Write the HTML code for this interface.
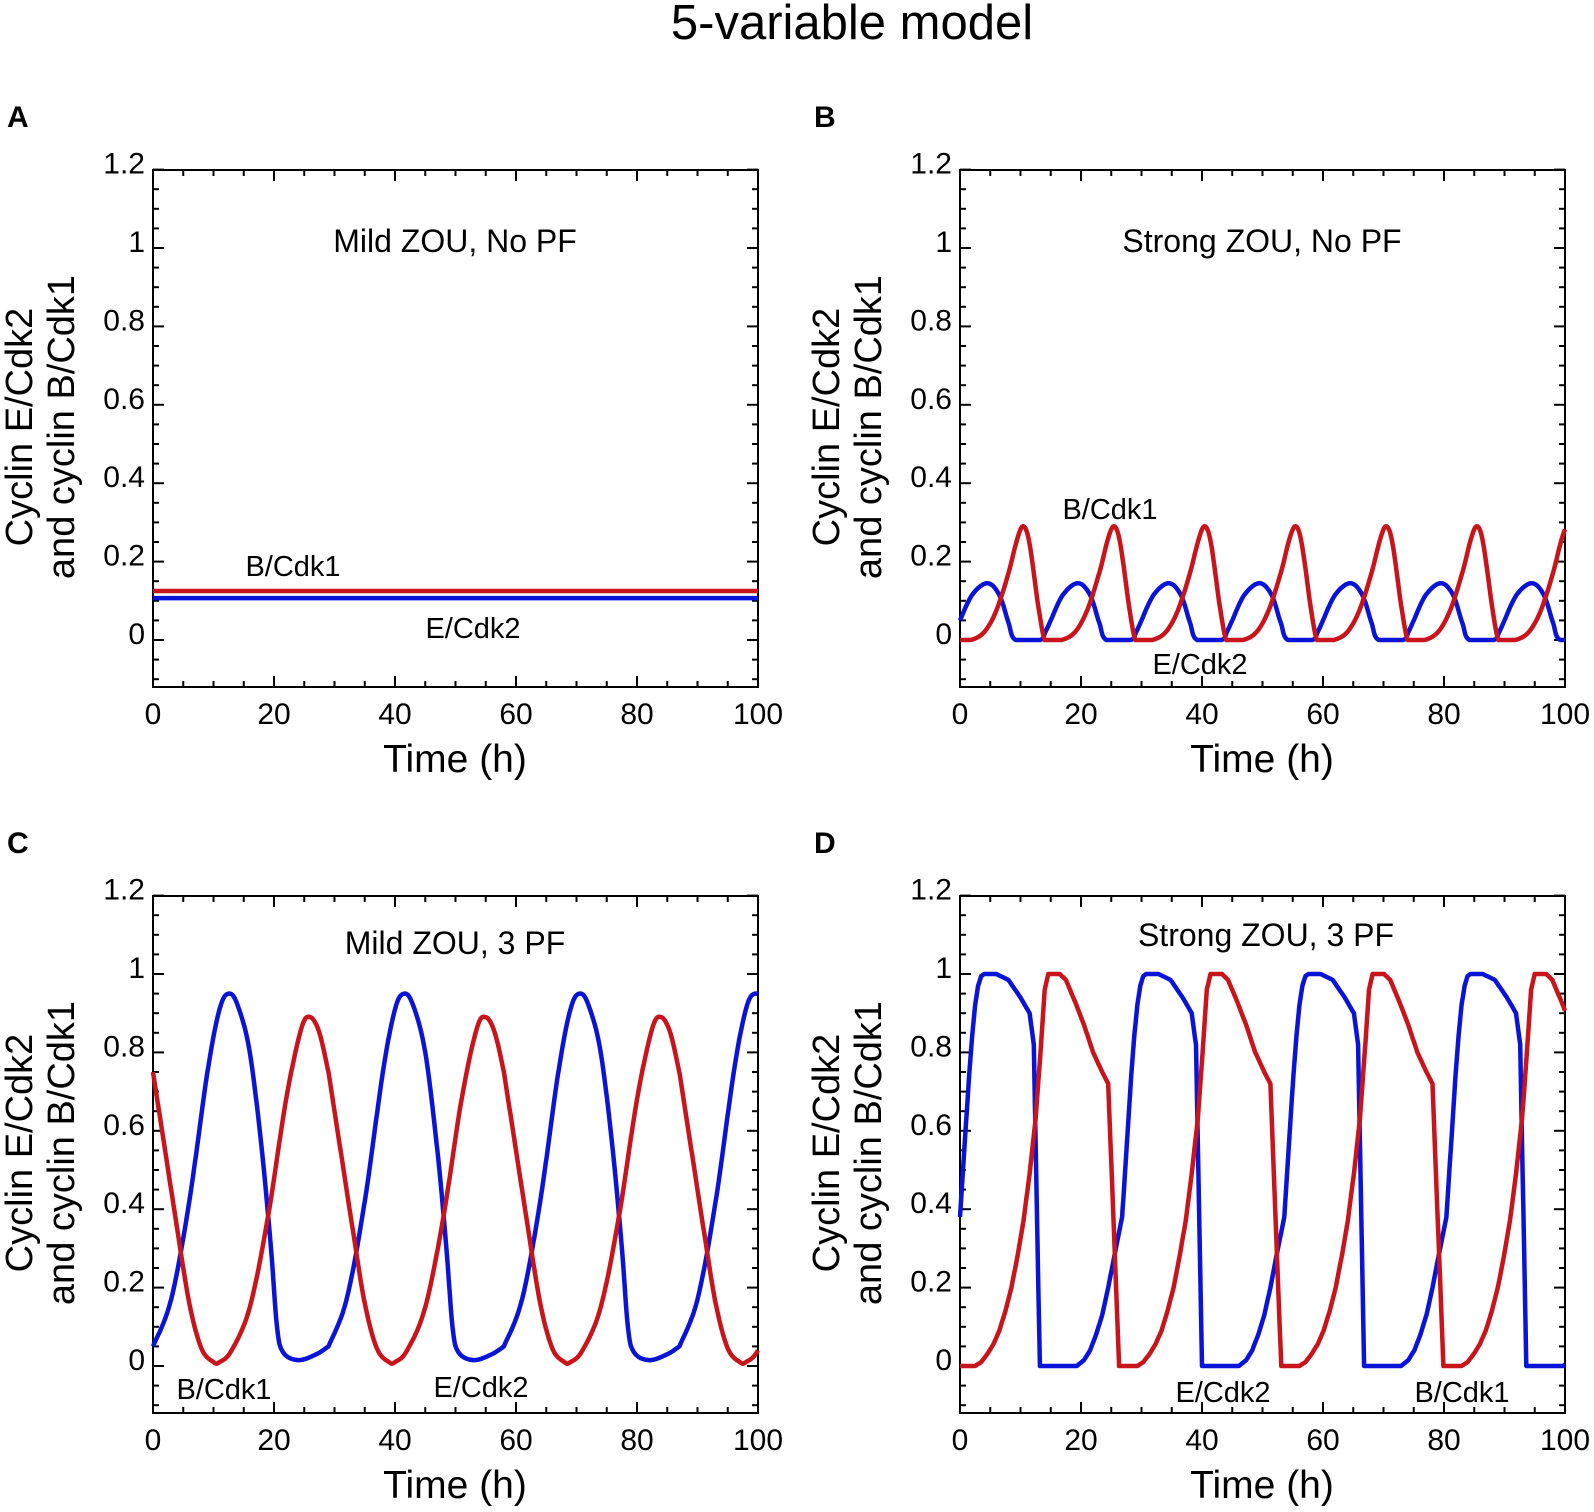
<!DOCTYPE html>
<html><head><meta charset="utf-8"><style>
html,body{margin:0;padding:0;background:#fff;}
svg text{font-family:"Liberation Sans",Arial,sans-serif;}
</style></head><body>
<svg id="s" width="1594" height="1507" xmlns="http://www.w3.org/2000/svg"></svg>
<script>
const S=document.getElementById('s');
let h='';
function T(x,y,txt,sz,anchor,extra){h+=`<text x="${x}" y="${y}" font-size="${sz}" text-anchor="${anchor||'middle'}" ${extra||''}>${txt}</text>`;}
h+=`<text x="852" y="39" font-size="49" text-anchor="middle">5-variable model</text>`;
const K=6.05,V=392;
function interp(keys,P,t){let c=((t%P)+P)%P;for(let i=0;i<keys.length-1;i++){const a=keys[i],b=keys[i+1];if(c>=a[0]&&c<=b[0]){const u=(c-a[0])/(b[0]-a[0]||1);return a[1]+(b[1]-a[1])*u;}}return keys[keys.length-1][1];}
function curve(ox,oy,f,col){let d='';for(let t=0;t<=100.001;t+=0.1){const x=ox+t*K,y=oy-f(t)*V;d+=(d?'L':'M')+x.toFixed(1)+','+y.toFixed(1);}h+=`<path d="${d}" fill="none" stroke="${col}" stroke-width="4.5" stroke-linejoin="round"/>`;}
function smoothKeys(keys){
 let out=[];for(let i=0;i<keys.length-1;i++){const p0=keys[Math.max(0,i-1)],p1=keys[i],p2=keys[i+1],p3=keys[Math.min(keys.length-1,i+2)];for(let j=0;j<10;j++){const u=j/10;const cr=(a,b,c,d)=>0.5*((2*b)+(-a+c)*u+(2*a-5*b+4*c-d)*u*u+(-a+3*b-3*c+d)*u*u*u);out.push([cr(p0[0],p1[0],p2[0],p3[0]),Math.max(0,Math.min(1.0,cr(p0[1],p1[1],p2[1],p3[1])))]);}}out.push(keys[keys.length-1]);return out;}
function panel(ox,oy,letter){
 const top=oy-470,bot=oy+47;
 h+=`<rect x="${ox}" y="${top}" width="605" height="${bot-top}" fill="none" stroke="#000" stroke-width="2"/>`;
 for(let v=-0.1;v<=1.2001;v+=0.05){const y=oy-v*V;const maj=Math.abs(Math.round(v*5)-v*5)<0.01;const L=maj?11:6;h+=`<line x1="${ox}" y1="${y}" x2="${ox+L}" y2="${y}" stroke="#000" stroke-width="2"/><line x1="${ox+605}" y1="${y}" x2="${ox+605-L}" y2="${y}" stroke="#000" stroke-width="2"/>`;
  if(maj&&v>-0.01){const lab=(Math.round(v*10)/10).toString();T(ox-8,y+4,lab,30,'end');}}
 for(let t=0;t<=100;t+=5){const x=ox+t*K;const maj=t%20==0;const L=maj?11:6;h+=`<line x1="${x}" y1="${bot}" x2="${x}" y2="${bot-L}" stroke="#000" stroke-width="2"/><line x1="${x}" y1="${top}" x2="${x}" y2="${top+L}" stroke="#000" stroke-width="2"/>`;
  if(maj)T(x,bot+37,t,30);}
 T(ox+302,bot+85,'Time (h)',39);
 const cy=oy-213;
 h+=`<text transform="translate(${ox-121},${cy}) rotate(-90)" font-size="38" text-anchor="middle">Cyclin E/Cdk2</text>`;
 h+=`<text transform="translate(${ox-79},${cy}) rotate(-90)" font-size="38" text-anchor="middle">and cyclin B/Cdk1</text>`;
 h+=`<text x="${ox-146}" y="${top-43}" font-size="30" font-weight="bold">${letter}</text>`;
}
panel(153,640,'A');panel(960,640,'B');panel(153,1366,'C');panel(960,1366,'D');
// A
curve(153,640,t=>0.107,'#0a14d8');curve(153,640,t=>0.125,'#c8141a');
T(455,252,'Mild ZOU, No PF',32);T(293,576,'B/Cdk1',29);T(473,638,'E/Cdk2',29);
// B
const bB=smoothKeys([[0,0.05],[2,0.115],[4.5,0.145],[6.5,0.115],[8,0.045],[9.2,0],[13.2,0],[14.1,0.02],[15,0.05]]);
const bR=smoothKeys([[0,0],[1.8,0],[4,0.02],[6,0.075],[8,0.17],[9.5,0.26],[10.5,0.29],[11.5,0.245],[13,0.08],[14,0],[15,0]]);
curve(960,640,t=>interp(bB,15,t),'#0a14d8');curve(960,640,t=>interp(bR,15,t),'#c8141a');
T(1262,252,'Strong ZOU, No PF',32);T(1110,519,'B/Cdk1',29);T(1200,674,'E/Cdk2',29);
// C
const cB=smoothKeys([[0,0.05],[3,0.17],[6,0.42],[9,0.75],[11,0.91],[12.5,0.95],[14,0.92],[16,0.8],[18,0.55],[19.5,0.3],[20.5,0.1],[21.5,0.035],[24,0.015],[27,0.03],[29,0.05]]);
const cR=smoothKeys([[0,0.75],[2,0.55],[4,0.35],[6,0.16],[8,0.045],[10,0.01],[11,0.01],[13,0.04],[16,0.15],[19,0.38],[22,0.68],[24.5,0.86],[26,0.89],[27.5,0.85],[29,0.75]]);
curve(153,1366,t=>interp(cB,29,t),'#0a14d8');curve(153,1366,t=>interp(cR,29,t),'#c8141a');
T(455,954,'Mild ZOU, 3 PF',32);T(224,1399,'B/Cdk1',29);T(481,1397,'E/Cdk2',29);
// D
const P=26.8;
const dB=[[0,0.38],[0.5,0.5],[1,0.62],[1.5,0.74],[2,0.84],[2.5,0.92],[3,0.97],[3.5,0.995],[4,1.0],[6,1.0],[8,0.985],[10,0.94],[11.5,0.9],[12.2,0.82],[13.2,0],[19.3,0],[20.5,0.015],[21.5,0.04],[22.5,0.08],[23.5,0.13],[24.5,0.2],[25.5,0.28],[26.8,0.38]];
const dR=[[0,0],[2.5,0],[3.5,0.01],[4.5,0.03],[5.5,0.055],[6.5,0.09],[7.5,0.14],[8.5,0.2],[9.5,0.28],[10.5,0.37],[11.5,0.49],[12.5,0.63],[13.3,0.8],[14,0.96],[14.6,1.0],[16.5,1.0],[17.5,0.985],[19,0.93],[20.5,0.87],[22,0.8],[23.5,0.75],[24.5,0.72],[26.3,0],[26.8,0]];
curve(960,1366,t=>interp(dB,P,t),'#0a14d8');curve(960,1366,t=>interp(dR,P,t),'#c8141a');
T(1266,946,'Strong ZOU, 3 PF',32);T(1223,1402,'E/Cdk2',29);T(1462,1402,'B/Cdk1',29);
S.innerHTML=h;
</script>
</body></html>
